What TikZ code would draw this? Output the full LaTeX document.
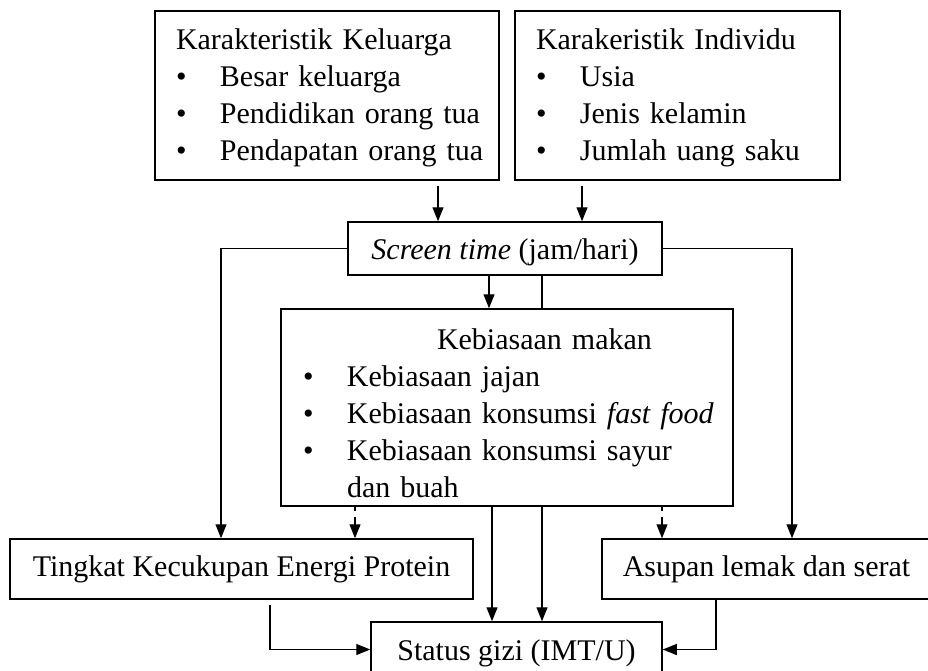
\documentclass[tikz,border=0pt]{standalone}
\usepackage{fontspec}
\setmainfont{Liberation Serif}
\usetikzlibrary{arrows.meta}
\newcommand{\itm}[1]{\makebox[44pt][l]{\textbullet}\mbox{#1}}

\begin{document}
\begin{tikzpicture}[x=1pt, y=-1pt, line width=1.2pt,
    box/.style={draw, line width=1.5pt, inner sep=0pt, font=\fontsize{30}{37}\selectfont},
    list/.style={box, align=left},
    arr/.style={-{Triangle[length=14pt,width=11pt]}}]
    \useasboundingbox (0,0) rectangle (928,671);

    \node[list, inner xsep=21pt, text width=302, minimum width=344, minimum height=169] (kel) at (327,95.5)
        {\rule{0pt}{26pt}Karakteristik Keluarga\\ \itm{Besar keluarga}\\ \itm{Pendidikan orang tua}\\ \itm{Pendapatan orang tua}};
    \node[list, inner xsep=21pt, text width=283, minimum width=325, minimum height=169] (ind) at (677.5,95.5)
        {\rule{0pt}{26pt}Karakeristik Individu\\ \itm{Usia}\\ \itm{Jenis kelamin}\\ \itm{Jumlah uang saku}};
    \node[box, text height=32pt, text depth=10pt, minimum width=314, minimum height=53] (scr) at (505,248.5)
        {\textit{Screen time} (jam/hari)};
    \node[list, inner xsep=22pt, text width=408, minimum width=452, minimum height=197] (keb) at (507,407.5)
        {\rule{0pt}{32pt}\hspace*{134pt}Kebiasaan makan\\ \itm{Kebiasaan jajan}\\ \itm{Kebiasaan konsumsi \textit{fast food}}\\
         \itm{Kebiasaan konsumsi sayur}\\ \hspace*{44pt}dan buah};
    \node[box, minimum width=463, minimum height=60] (tkep) at (241.5,569) {Tingkat Kecukupan Energi Protein};
    \node[box, minimum width=329, minimum height=60] (asu) at (766.5,569) {Asupan lemak dan serat};
    \node[box, text height=32pt, text depth=10pt, minimum width=291, minimum height=55] (gizi) at (516.5,649.5)
        {Status gizi (IMT/U)};

    % x positions of the vertical connectors
    \foreach \n/\x in {xkel/438, xind/582, xl/221, xr/792, xa/489, xb/542, xc/492, xd/355, xe/662, xf/270, xg/716}
        \coordinate (\n) at (\x,0);

    \foreach \c/\s in {xkel/kel, xind/ind}
        \draw[arr, shorten <=5pt] (\s.south -| \c) -- (scr.north -| \c);

    \draw[arr] (scr.west) -| (tkep.north -| xl);
    \draw[arr] (scr.east) -| (asu.north -| xr);
    \draw[arr] (scr.south -| xa) -- (keb.north -| xa);
    \draw (scr.south -| xb) -- (keb.north -| xb);

    \foreach \c in {xc, xb}
        \draw[arr] (keb.south -| \c) -- (gizi.north -| \c);
    \draw[arr, dash pattern=on 4pt off 6pt on 40pt] (keb.south -| xd) -- (tkep.north -| xd);
    \draw[arr, dash pattern=on 4pt off 6pt on 40pt] (keb.south -| xe) -- (asu.north -| xe);

    \draw[arr, shorten <=5pt] (tkep.south -| xf) |- (gizi.west);
    \draw[arr] (asu.south -| xg) |- (gizi.east);
\end{tikzpicture}
\end{document}
